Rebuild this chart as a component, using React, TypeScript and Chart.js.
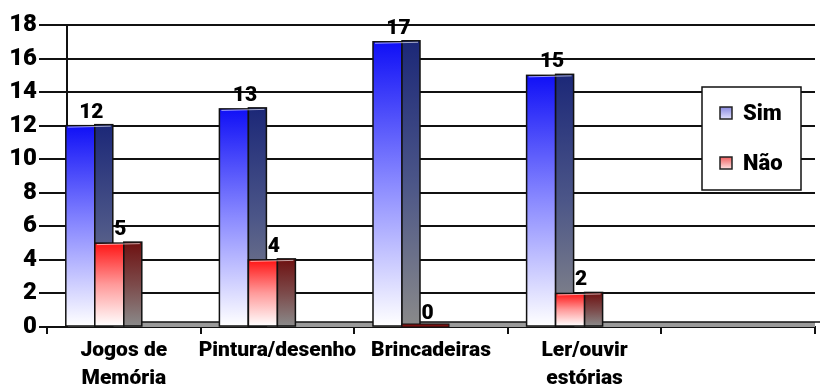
import React, { useEffect, useRef } from "react";
import { Chart, registerables } from "chart.js";

Chart.register(...registerables);

const categories: string[][] = [
  ["Jogos de", "Memória"],
  ["Pintura/desenho"],
  ["Brincadeiras"],
  ["Ler/ouvir", "estórias"],
  [""],
];
const simValues: (number | null)[] = [12, 13, 17, 15, null];
const naoValues: (number | null)[] = [5, 4, 0, 2, null];
const seriesNames = ["Sim", "Não"];
const yMin = 0;
const yMax = 18;
const yStep = 2;

const FONT = 'Roboto, "DejaVu Sans", sans-serif';
const DEPTH = 18;

const STYLES = [
  {
    front: ["#1010f6", "#8a8aff", "#ffffff"],
    side: ["#1c2878", "#4c5688", "#8a8a8a"],
    legend: ["#e0e0ff", "#8a8ae0"],
    zero: "#1c2878",
  },
  {
    front: ["#ff1414", "#ff9a9a", "#ffffff"],
    side: ["#6e1212", "#7c4a4a", "#8a8a8a"],
    legend: ["#ffe0e0", "#f06060"],
    zero: "#7a1010",
  },
];

const bars3d = {
  id: "bars3d",
  beforeDatasetsDraw(chart: any) {
    const { ctx, chartArea } = chart;
    ctx.save();
    ctx.fillStyle = "#9a9a9a";
    ctx.fillRect(chartArea.left + 20, chartArea.bottom - 5, chartArea.right - chartArea.left - 20, 5);
    ctx.strokeStyle = "#111";
    ctx.lineWidth = 1.5;
    ctx.beginPath();
    ctx.moveTo(chartArea.left + 20, chartArea.bottom - 5);
    ctx.lineTo(chartArea.right + 5, chartArea.bottom - 5);
    ctx.stroke();
    ctx.lineWidth = 2;
    ctx.beginPath();
    ctx.moveTo(chartArea.left + 20, chartArea.top);
    ctx.lineTo(chartArea.left + 20, chartArea.bottom);
    ctx.stroke();
    ctx.restore();
  },
  afterDatasetsDraw(chart: any) {
    const ctx = chart.ctx;
    ctx.save();
    const labels: { x: number; y: number; t: string }[] = [];
    [0, 1].forEach((di) => {
      const meta = chart.getDatasetMeta(di);
      const st = STYLES[di];
      meta.data.forEach((el: any, i: number) => {
        const v = chart.data.datasets[di].data[i];
        if (v === null || v === undefined) return;
        const { x, y, base, width } = el.getProps(["x", "y", "base", "width"], true);
        const x0 = x - width / 2;
        const x1 = x + width / 2;
        const h = base - y;
        if (h < 2) {
          ctx.fillStyle = st.zero;
          ctx.fillRect(x0, base - 3, width + DEPTH, 3);
          ctx.strokeStyle = "#111";
          ctx.lineWidth = 1;
          ctx.strokeRect(x0, base - 3, width + DEPTH, 3);
        } else {
          const gf = ctx.createLinearGradient(0, y, 0, base);
          gf.addColorStop(0, st.front[0]);
          gf.addColorStop(0.5, st.front[1]);
          gf.addColorStop(1, st.front[2]);
          ctx.fillStyle = gf;
          ctx.fillRect(x0, y, width, h);
          ctx.strokeStyle = "#111";
          ctx.lineWidth = 1.5;
          ctx.strokeRect(x0, y, width, h);
          const gs = ctx.createLinearGradient(0, y, 0, base);
          gs.addColorStop(0, st.side[0]);
          gs.addColorStop(0.5, st.side[1]);
          gs.addColorStop(1, st.side[2]);
          ctx.fillStyle = gs;
          ctx.fillRect(x1, y - 1, DEPTH, h + 1);
          ctx.strokeRect(x1, y - 1, DEPTH, h + 1);
          ctx.strokeStyle = "rgba(255,255,255,0.6)";
          ctx.lineWidth = 1;
          ctx.beginPath();
          ctx.moveTo(x0 + 2, y + 1.5);
          ctx.lineTo(x1 + DEPTH - 2, y + 0.5);
          ctx.stroke();
        }
        labels.push({ x: x + 11, y: y - 8, t: String(v) });
      });
    });
    ctx.fillStyle = "#000";
    ctx.font = `900 21px ${FONT}`;
    ctx.textAlign = "center";
    ctx.textBaseline = "alphabetic";
    labels.forEach((l) => ctx.fillText(l.t, l.x, l.y));
    ctx.restore();
  },
  afterDraw(chart: any) {
    const { ctx, chartArea } = chart;
    ctx.save();
    const bx = chartArea.right - 113;
    const by = chartArea.top + 62;
    const bw = 99;
    const bh = 103;
    ctx.fillStyle = "#fff";
    ctx.fillRect(bx, by, bw, bh);
    ctx.strokeStyle = "#111";
    ctx.lineWidth = 1.5;
    ctx.strokeRect(bx, by, bw, bh);
    ctx.font = `900 22px ${FONT}`;
    ctx.textAlign = "left";
    ctx.textBaseline = "middle";
    seriesNames.forEach((name, i) => {
      const cy = by + 26 + i * 50;
      const st = STYLES[i];
      const g = ctx.createLinearGradient(0, cy - 6, 0, cy + 6);
      g.addColorStop(0, st.legend[1]);
      g.addColorStop(1, st.legend[0]);
      ctx.fillStyle = g;
      ctx.fillRect(bx + 18, cy - 6, 12, 12);
      ctx.strokeStyle = "#222";
      ctx.lineWidth = 1.5;
      ctx.strokeRect(bx + 18, cy - 6, 12, 12);
      ctx.fillStyle = "#000";
      ctx.fillText(name, bx + 41, cy + 1);
    });
    ctx.restore();
  },
};

export default function App() {
  const ref = useRef<HTMLCanvasElement | null>(null);
  useEffect(() => {
    document.body.style.margin = "0";
    if (!ref.current) return;
    const tickFont = { family: FONT, weight: 900 as any };
    const chart = new Chart(ref.current, {
      type: "bar",
      data: {
        labels: categories,
        datasets: [
          { label: seriesNames[0], data: simValues, backgroundColor: "rgba(0,0,0,0)", borderWidth: 0 },
          { label: seriesNames[1], data: naoValues, backgroundColor: "rgba(0,0,0,0)", borderWidth: 0 },
          { label: "", data: categories.map(() => null), backgroundColor: "rgba(0,0,0,0)" },
          { label: "", data: categories.map(() => null), backgroundColor: "rgba(0,0,0,0)" },
        ],
      },
      options: {
        responsive: false,
        animation: false,
        devicePixelRatio: 1,
        layout: { padding: { top: 25, right: 9, bottom: 0, left: 0 } },
        datasets: { bar: { barThickness: 29 } },
        plugins: { legend: { display: false }, tooltip: { enabled: false } },
        scales: {
          x: {
            offset: true,
            grid: {
              display: true,
              drawOnChartArea: false,
              drawTicks: true,
              tickLength: 7,
              color: "#111",
              lineWidth: 2,
              offset: true,
            },
            border: { display: true, color: "#111", width: 2 },
            ticks: {
              font: { ...tickFont, size: 21, lineHeight: 1.33 },
              color: "#000",
              padding: 3,
              maxRotation: 0,
              autoSkip: false,
            },
            afterFit: (s: any) => {
              s.height = 58;
            },
          },
          y: {
            min: yMin,
            max: yMax,
            ticks: { stepSize: yStep, font: { ...tickFont, size: 24 }, color: "#000", padding: 2 },
            grid: { color: "#111", lineWidth: 2, tickLength: 8, drawTicks: true },
            border: { display: false },
            afterFit: (s: any) => {
              s.width = 47;
            },
          },
        },
      },
      plugins: [bars3d],
    } as any);
    return () => chart.destroy();
  }, []);
  return <canvas ref={ref} width={824} height={385} style={{ display: "block" }} />;
}
